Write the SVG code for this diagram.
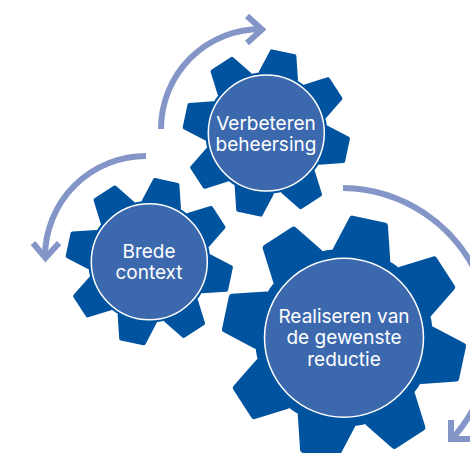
<svg xmlns="http://www.w3.org/2000/svg" xmlns:xlink="http://www.w3.org/1999/xlink" width="470" height="453" viewBox="0 0 470 453">
<style>
.g{fill:#00539f}
.tooth{fill:#00539f;stroke:#00539f;stroke-width:4;stroke-linejoin:round}
.hub{fill:#3c69ae;stroke:#fff;stroke-width:1.5}
.t{fill:#fff;font-family:"Inter","Liberation Sans",sans-serif;font-size:19px;text-anchor:middle}
.a{fill:none;stroke:#8496c8;stroke-width:6}
</style>
<defs>
<path id="tooth" d="M-18,-58L-11.500,-81H11.500L18,-58Z" class="tooth"/>
<g id="gear">
<circle r="61" class="g"/>
<use xlink:href="#tooth" href="#tooth" transform="rotate(12)"/>
<use xlink:href="#tooth" href="#tooth" transform="rotate(57)"/>
<use xlink:href="#tooth" href="#tooth" transform="rotate(102)"/>
<use xlink:href="#tooth" href="#tooth" transform="rotate(147)"/>
<use xlink:href="#tooth" href="#tooth" transform="rotate(192)"/>
<use xlink:href="#tooth" href="#tooth" transform="rotate(237)"/>
<use xlink:href="#tooth" href="#tooth" transform="rotate(282)"/>
<use xlink:href="#tooth" href="#tooth" transform="rotate(327)"/>
</g>
</defs>
<g id="connectors">
<path class="a" d="M161,129A100,100 0 0 1 262,29"/>
<path class="a" d="M247,16L262,29.500L247,43"/>
<path class="a" d="M146,156A101,101 0 0 0 45,256"/>
<path class="a" d="M33,243L45.500,258L59,243"/>
<path class="a" d="M343,188A150,150 0 0 1 451,440"/>
<path class="a" d="M451,420V439H471"/>
</g>
<g id="node-verbeteren">
<use xlink:href="#gear" href="#gear" transform="translate(266.300,133)"/>
<circle class="hub" cx="266.300" cy="133" r="58"/>
<text class="t" x="266" y="129.500">Verbeteren</text>
<text class="t" x="266" y="151">beheersing</text>
</g>
<g id="node-brede">
<use xlink:href="#gear" href="#gear" transform="translate(149.300,261.700)"/>
<circle class="hub" cx="149.300" cy="261.700" r="58"/>
<text class="t" x="149" y="257.700">Brede</text>
<text class="t" x="149" y="278.700">context</text>
</g>
<g id="node-realiseren">
<use xlink:href="#gear" href="#gear" transform="translate(344,337.700) scale(1.46)"/>
<circle class="hub" cx="344" cy="337.700" r="79.500"/>
<text class="t" x="344" y="322.700">Realiseren van</text>
<text class="t" x="344" y="344">de gewenste</text>
<text class="t" x="344" y="365.700">reductie</text>
</g>
</svg>
